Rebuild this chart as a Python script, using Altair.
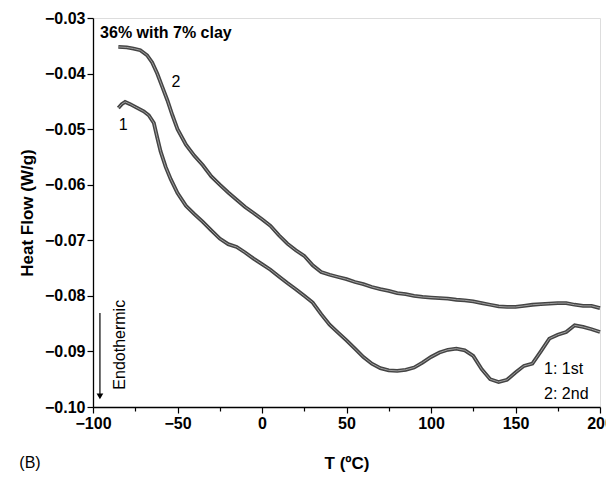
import altair as alt
import pandas as pd

t1 = [-85, -83, -81, -78, -75, -70, -67, -64, -62, -60, -57, -54, -50, -45, -40, -35, -30, -25, -20, -15,
      -10, -5, 0, 5, 10, 15, 20, 25, 30, 35, 40, 45, 50, 55, 60, 65, 70, 75, 80, 85, 90, 95, 100, 105,
      110, 115, 120, 125, 130, 135, 140, 145, 150, 155, 160, 165, 170, 175, 180, 185, 190, 195, 200]
hf1 = [-0.0462, -0.0455, -0.0451, -0.0455, -0.0460, -0.0468, -0.0475, -0.0489, -0.0515, -0.0540, -0.0568,
       -0.0590, -0.0615, -0.0638, -0.0653, -0.0667, -0.0682, -0.0697, -0.0707, -0.0712, -0.0722, -0.0733,
       -0.0743, -0.0753, -0.0765, -0.0777, -0.0788, -0.0800, -0.0812, -0.0833, -0.0852, -0.0866, -0.0880,
       -0.0895, -0.0910, -0.0922, -0.0930, -0.0934, -0.0935, -0.0933, -0.0929, -0.0920, -0.0910, -0.0902,
       -0.0897, -0.0895, -0.0898, -0.0908, -0.0932, -0.0950, -0.0955, -0.0951, -0.0938, -0.0926, -0.0922,
       -0.0900, -0.0877, -0.0870, -0.0865, -0.0853, -0.0856, -0.0860, -0.0865]

t2 = [-85, -80, -76, -72, -68, -65, -62, -59, -56, -53, -50, -45, -40, -35, -30, -25, -20, -15, -10, -5,
      0, 5, 10, 15, 20, 25, 30, 35, 40, 45, 50, 55, 60, 65, 70, 75, 80, 85, 90, 95, 100, 105, 110, 115,
      120, 125, 130, 135, 140, 145, 150, 155, 160, 165, 170, 175, 180, 185, 190, 195, 200]
hf2 = [-0.0352, -0.0353, -0.0355, -0.0358, -0.0367, -0.0380, -0.0400, -0.0424, -0.0448, -0.0475, -0.0500,
       -0.0528, -0.0548, -0.0565, -0.0585, -0.0600, -0.0614, -0.0627, -0.0640, -0.0651, -0.0662, -0.0674,
       -0.0691, -0.0706, -0.0718, -0.0728, -0.0745, -0.0757, -0.0762, -0.0766, -0.0770, -0.0775, -0.0779,
       -0.0784, -0.0788, -0.0791, -0.0795, -0.0797, -0.0800, -0.0802, -0.0803, -0.0804, -0.0805, -0.0807,
       -0.0808, -0.0810, -0.0813, -0.0816, -0.0819, -0.0820, -0.0820, -0.0818, -0.0816, -0.0815, -0.0814,
       -0.0813, -0.0813, -0.0816, -0.0818, -0.0818, -0.0822]

x_ticks = [-100, -75, -50, -25, 0, 25, 50, 75, 100, 125, 150, 175, 200]
y_ticks = [-0.10, -0.095, -0.09, -0.085, -0.08, -0.075, -0.07, -0.065, -0.06, -0.055, -0.05, -0.045,
           -0.04, -0.035, -0.03]

df = pd.concat([
    pd.DataFrame({"T": t1, "HF": hf1, "run": "1st"}),
    pd.DataFrame({"T": t2, "HF": hf2, "run": "2nd"}),
])

FONT = "Liberation Sans"

xs = alt.Scale(domain=[-100, 200], nice=False, zero=False)
ys = alt.Scale(domain=[-0.10, -0.03], nice=False, zero=False)

x_axis = alt.Axis(
    values=x_ticks, title="T (ºC)",
    labelExpr="datum.value % 50 === 0 ? datum.label : ''",
    tickSize={"condition": {"test": "datum.value % 50 === 0", "value": 6}, "value": 4},
    labelPadding=2, titlePadding=24, grid=False,
    labelFont=FONT, labelFontSize=16, labelFontWeight="bold", labelColor="black",
    titleFont=FONT, titleFontSize=17, titleFontWeight="bold", titleColor="black",
    domainColor="black", domainWidth=1.3, tickColor="black", tickWidth=1.2, labelFlush=False,
)
y_axis = alt.Axis(
    values=y_ticks, title="Heat Flow (W/g)", format=".2f",
    labelExpr="abs(round(datum.value*100) - datum.value*100) < 0.001 ? datum.label : ''",
    tickSize={"condition": {"test": "abs(round(datum.value*100) - datum.value*100) < 0.001", "value": 6}, "value": 4},
    labelPadding=2, titlePadding=8, grid=False,
    labelFont=FONT, labelFontSize=16, labelFontWeight="bold", labelColor="black",
    titleFont=FONT, titleFontSize=17, titleFontWeight="bold", titleColor="black",
    domainColor="black", domainWidth=1.3, tickColor="black", tickWidth=1.2, labelFlush=False,
)

base = alt.Chart(df).encode(
    x=alt.X("T:Q", scale=xs, axis=x_axis),
    y=alt.Y("HF:Q", scale=ys, axis=y_axis),
    detail="run:N",
)
outer = base.mark_line(color="#444444", strokeWidth=3.8)
inner = base.mark_line(color="#a0a0a0", strokeWidth=1.0)

title_df = pd.DataFrame({"T": [-95.8], "HF": [-0.0327], "txt": ["36% with 7% clay"]})
num_df = pd.DataFrame({"T": [-82.2, -50.9], "HF": [-0.0493, -0.0415], "txt": ["1", "2"]})
leg_df = pd.DataFrame({"T": [166.9, 166.9], "HF": [-0.0931, -0.0976], "txt": ["1: 1st", "2: 2nd"]})

ann_left = alt.Chart(title_df).mark_text(
    align="left", baseline="middle", font=FONT, fontSize=16, fontWeight="bold", color="black"
).encode(x=alt.X("T:Q", scale=xs), y=alt.Y("HF:Q", scale=ys), text="txt:N")
ann_num = alt.Chart(num_df).mark_text(
    align="center", baseline="middle", font=FONT, fontSize=16, color="black"
).encode(x=alt.X("T:Q", scale=xs), y=alt.Y("HF:Q", scale=ys), text="txt:N")
ann_leg = alt.Chart(leg_df).mark_text(
    align="left", baseline="middle", font=FONT, fontSize=16, color="black"
).encode(x=alt.X("T:Q", scale=xs), y=alt.Y("HF:Q", scale=ys), text="txt:N")

endo = alt.Chart(pd.DataFrame({"T": [-84.0], "HF": [-0.0888], "txt": ["Endothermic"]})).mark_text(
    angle=270, align="center", baseline="middle", font=FONT, fontSize=16, color="black"
).encode(x=alt.X("T:Q", scale=xs), y=alt.Y("HF:Q", scale=ys), text="txt:N")

arrow_df = pd.DataFrame({"T": [-95.9], "HF": [-0.0831], "HF2": [-0.0983]})
arrow_line = alt.Chart(arrow_df).mark_rule(color="black", strokeWidth=1.2).encode(
    x=alt.X("T:Q", scale=xs), y=alt.Y("HF:Q", scale=ys), y2="HF2:Q")
arrow_head = alt.Chart(pd.DataFrame({"T": [-95.9], "HF": [-0.0981]})).mark_point(
    shape="triangle-down", filled=True, color="black", size=45, opacity=1
).encode(x=alt.X("T:Q", scale=xs), y=alt.Y("HF:Q", scale=ys))

label_b = alt.Chart(pd.DataFrame({"txt": ["(B)"]})).mark_text(
    align="center", baseline="middle", font=FONT, fontSize=16, color="black", clip=False
).encode(x=alt.value(-63), y=alt.value(445), text="txt:N")

chart = alt.layer(
    outer, inner, ann_left, ann_num, ann_leg, endo, arrow_line, arrow_head, label_b
).properties(
    width=507, height=389,
    padding={"left": 85, "top": 10, "right": 6, "bottom": 70},
    autosize=alt.AutoSizeParams(type="none"),
).configure_view(
    stroke="black", strokeWidth=1.3
).configure(background="white")

chart.save("out.html", embed_options={"renderer": "svg", "actions": False})
